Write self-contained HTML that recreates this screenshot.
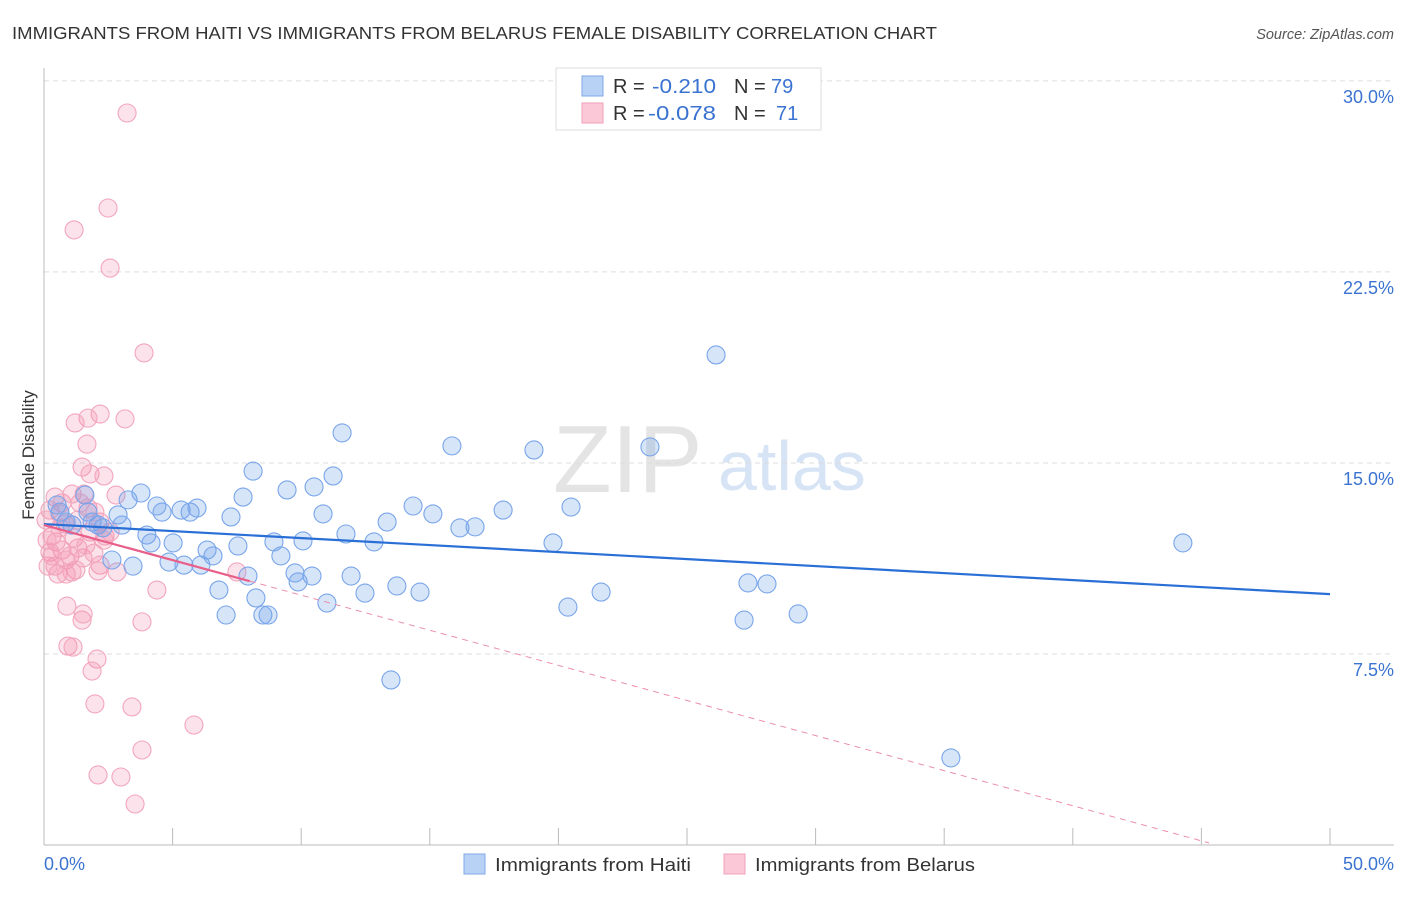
<!DOCTYPE html>
<html><head><meta charset="utf-8"><style>
body{margin:0;background:#fff;font-family:"Liberation Sans",sans-serif;}
svg text{font-family:"Liberation Sans",sans-serif;}
</style></head><body>
<svg id="chart" width="1406" height="892" viewBox="0 0 1406 892">
<text x="12" y="39" font-size="17.5" fill="#333" textLength="925" lengthAdjust="spacingAndGlyphs">IMMIGRANTS FROM HAITI VS IMMIGRANTS FROM BELARUS FEMALE DISABILITY CORRELATION CHART</text>
<text x="1394" y="39" font-size="14.5" fill="#555" text-anchor="end" font-style="italic">Source: ZipAtlas.com</text>
<text transform="translate(34,455) rotate(-90)" font-size="17" fill="#333" text-anchor="middle">Female Disability</text>
<g>
<text x="553" y="492" font-size="96" font-family="Liberation Serif" fill="#e4e4e4">ZIP</text>
<text x="718" y="490" font-size="70" fill="#d6e4f6">atlas</text>
</g>
<g id="grid"></g>
<g id="axes"></g>
<g id="marks"></g>
<g>
<rect x="556" y="68" width="265" height="62" fill="#fff" stroke="#ddd"/>
<rect x="582" y="76" width="21" height="20" fill="#b8d2f5" stroke="#7fa8e6"/>
<rect x="582" y="103" width="21" height="20" fill="#fbc8d7" stroke="#f1a0b9"/>
<text x="613" y="93" font-size="20" fill="#333">R =</text>
<text x="652" y="93" font-size="20" fill="#3b73d1" textLength="64" lengthAdjust="spacingAndGlyphs">-0.210</text>
<text x="734" y="93" font-size="20" fill="#333">N =</text>
<text x="771" y="93" font-size="20" fill="#3b73d1">79</text>
<text x="613" y="120" font-size="20" fill="#333">R =</text>
<text x="648" y="120" font-size="20" fill="#3b73d1" textLength="68" lengthAdjust="spacingAndGlyphs">-0.078</text>
<text x="734" y="120" font-size="20" fill="#333">N =</text>
<text x="776" y="120" font-size="20" fill="#3b73d1">71</text>
</g>
<g>
<rect x="464" y="854" width="21" height="20" fill="#b8d2f5" stroke="#7fa8e6"/>
<text x="495" y="871" font-size="18.5" fill="#333" textLength="196" lengthAdjust="spacingAndGlyphs">Immigrants from Haiti</text>
<rect x="724" y="854" width="21" height="20" fill="#fbc8d7" stroke="#f1a0b9"/>
<text x="755" y="871" font-size="18.5" fill="#333" textLength="220" lengthAdjust="spacingAndGlyphs">Immigrants from Belarus</text>
</g>
</svg>
<script>
const yTicks=[7.5,15,22.5,30];
const yTickLabels=["7.5%","15.0%","22.5%","30.0%"];
const xTicks=[0,5,10,15,20,25,30,35,40,45,50];
const haitiX=[0.51,0.62,0.86,1.09,1.59,1.71,1.87,2.10,2.29,2.64,2.88,3.03,3.27,3.46,3.77,4.00,4.16,4.39,4.59,4.86,5.02,5.33,5.44,5.68,5.95,6.10,6.34,6.57,6.80,7.08,7.27,7.54,7.74,7.93,8.13,8.24,8.51,8.71,8.94,9.21,9.45,9.76,9.88,10.07,10.42,10.50,10.85,11.00,11.24,11.59,11.74,11.94,12.48,12.83,13.34,13.49,13.72,14.35,14.62,15.12,15.86,16.17,16.76,17.85,19.05,19.79,20.37,20.49,21.66,23.56,26.13,27.22,27.37,28.11,29.32,35.26,44.28];
const haitiY=[13.35,13.07,12.68,12.56,13.74,13.07,12.68,12.56,12.45,11.19,12.96,12.56,13.55,10.95,13.82,12.17,11.86,13.31,13.07,11.11,11.86,13.15,10.99,13.07,13.23,10.99,11.58,11.35,10.01,9.03,12.88,11.74,13.66,10.56,14.68,9.70,9.03,9.03,11.90,11.35,13.94,10.68,10.33,11.94,10.56,14.06,13.00,9.50,14.49,16.18,12.21,10.56,9.89,11.90,12.68,6.48,10.17,13.31,9.93,13.00,15.67,12.45,12.49,13.15,15.51,11.86,9.34,13.27,9.93,15.63,19.24,8.83,10.29,10.25,9.07,3.42,11.86];
const belarusX=[3.23,2.49,1.17,2.57,3.89,2.18,1.71,1.21,3.15,1.67,1.48,1.79,2.33,0.43,0.70,1.09,1.56,2.80,0.23,0.62,1.71,0.82,1.32,2.18,2.37,0.31,0.47,0.70,1.01,1.32,1.52,1.94,0.23,0.43,0.54,0.16,1.24,0.86,2.18,2.84,2.10,7.50,4.39,0.89,1.48,1.52,3.81,0.93,1.13,2.06,1.87,1.98,3.42,5.83,3.81,2.10,2.99,3.54,0.08,0.12,1.79,2.57,1.17,1.40,0.62,1.98,1.63,0.86,2.33,1.09,0.31];
const belarusY=[28.74,25.01,24.15,22.65,19.32,16.92,16.76,16.57,16.73,15.74,14.84,14.57,14.49,13.66,13.43,13.78,13.78,13.74,13.15,13.00,13.23,12.60,12.76,12.68,12.13,12.13,11.90,11.58,11.35,11.66,11.27,11.46,11.50,10.95,10.64,10.95,10.80,11.19,10.99,10.72,10.76,10.72,10.01,9.38,8.83,9.07,8.76,7.81,7.77,7.30,6.83,5.54,5.42,4.71,3.73,2.75,2.67,1.61,12.76,11.97,12.29,12.29,12.05,13.43,12.45,13.07,11.78,10.64,11.97,10.72,11.35];
const haitiTrend=[[0,12.6],[50,9.85]];
const belarusTrend=[[0,12.56],[8,10.36],[45.3,0.08]];
const NS="http://www.w3.org/2000/svg";
const X0=44,X1=1330,Y0=845,YTOP=80.9;
const xs=v=>X0+(X1-X0)*v/50;
const ys=v=>Y0-(Y0-YTOP)*v/30;
function mk(tag,attrs,parent){const e=document.createElementNS(NS,tag);for(const k in attrs)e.setAttribute(k,attrs[k]);parent.appendChild(e);return e;}
const grid=document.getElementById('grid'),axes=document.getElementById('axes'),marks=document.getElementById('marks');
yTicks.forEach((t,i)=>{
  const l=mk('line',{x1:X0,x2:1394,y1:ys(t),y2:ys(t),stroke:'#ddd','stroke-dasharray':'5,4'},grid);
  
  
  const tx=mk('text',{x:1394,y:ys(t)+22,'font-size':18,fill:'#3b73d1','text-anchor':'end'},grid);
  tx.textContent=yTickLabels[i];
  
  
});
const ax=mk('line',{x1:X0,x2:X0,y1:68,y2:Y0,stroke:'#bbb'},axes);


const bx=mk('line',{x1:X0,x2:1394,y1:Y0,y2:Y0,stroke:'#bbb'},axes);


xTicks.forEach(t=>{
  if(t===0)return;
  const l=mk('line',{x1:xs(t),x2:xs(t),y1:828,y2:Y0,stroke:'#bbb'},axes);
  
  
});
const xl0=mk('text',{x:44,y:870,'font-size':18,fill:'#3b73d1'},axes);xl0.textContent='0.0%';


const xl1=mk('text',{x:1394,y:870,'font-size':18,fill:'#3b73d1','text-anchor':'end'},axes);xl1.textContent='50.0%';


belarusX.forEach((v,i)=>{
  const c=mk('circle',{cx:xs(v),cy:ys(belarusY[i]),r:9,fill:'rgba(242,140,170,0.25)',stroke:'#f2a6bd','stroke-width':1.1},marks);
  
  
});
haitiX.forEach((v,i)=>{
  const c=mk('circle',{cx:xs(v),cy:ys(haitiY[i]),r:9,fill:'rgba(110,160,235,0.28)',stroke:'#79a5ea','stroke-width':1.1},marks);
  
  
});
const ht=mk('line',{x1:xs(haitiTrend[0][0]),y1:ys(haitiTrend[0][1]),x2:xs(haitiTrend[1][0]),y2:ys(haitiTrend[1][1]),stroke:'#2a6fd6','stroke-width':2.2},marks);


const bt=mk('line',{x1:xs(belarusTrend[0][0]),y1:ys(belarusTrend[0][1]),x2:xs(belarusTrend[1][0]),y2:ys(belarusTrend[1][1]),stroke:'#e8608a','stroke-width':2.2},marks);


const bd=mk('line',{x1:xs(belarusTrend[1][0]),y1:ys(belarusTrend[1][1]),x2:xs(belarusTrend[2][0]),y2:ys(belarusTrend[2][1]),stroke:'#eb8fab','stroke-width':1,'stroke-dasharray':'6,5'},marks);


</script>
</body></html>
